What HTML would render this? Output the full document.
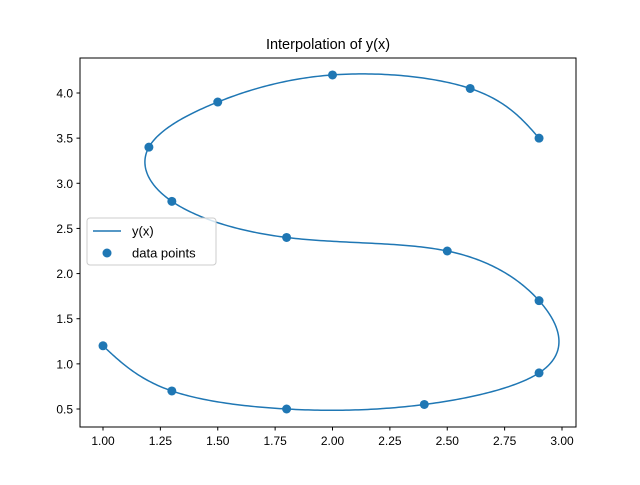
<!DOCTYPE html>
<html><head><meta charset="utf-8"><style>
body{margin:0;background:#fff}
svg{font-family:"Liberation Sans","DejaVu Sans",sans-serif}
</style></head><body>
<svg id="chart" width="640" height="480" xmlns="http://www.w3.org/2000/svg">
<rect width="640" height="480" fill="#fff"/>
<text x="328" y="49" text-anchor="middle" font-size="14.5">Interpolation of y(x)</text>
<g id="plot"></g>
<rect x="80" y="58" width="496" height="369" fill="none" stroke="#000" stroke-width="1"/>
<g id="xticks"></g>
<g id="yticks"></g>
<g>
<rect x="87" y="218" width="129" height="47" rx="3" fill="#fff" fill-opacity="0.8" stroke="#ccc"/>
<line x1="93" y1="231" x2="121" y2="231" stroke="#1f77b4" stroke-width="1.5"/>
<text x="132" y="235.5" font-size="13">y(x)</text>
<circle cx="107" cy="253" r="4.5" fill="#1f77b4"/>
<text x="132" y="257.5" font-size="13">data points</text>
</g>
</svg>
<script>
const xs=[1.0,1.3,1.8,2.4,2.9,2.9,2.5,1.8,1.3,1.2,1.5,2.0,2.6,2.9];
const ys=[1.2,0.7,0.5,0.55,0.9,1.7,2.25,2.4,2.8,3.4,3.9,4.2,4.05,3.5];
const xTicks=["1.00","1.25","1.50","1.75","2.00","2.25","2.50","2.75","3.00"];
const yTicks=["0.5","1.0","1.5","2.0","2.5","3.0","3.5","4.0"];
const X=v=>103+(v-1)*229.5, Y=v=>409-(v-0.5)*90.286;
const NS="http://www.w3.org/2000/svg";
function mk(tag,attrs,parent){const e=document.createElementNS(NS,tag);for(const k in attrs)e.setAttribute(k,attrs[k]);parent.appendChild(e);return e;}
const xt=document.getElementById('xticks'),yt=document.getElementById('yticks'),plot=document.getElementById('plot');
xTicks.forEach(t=>{const px=X(+t);
const l=mk('line',{x1:px,x2:px,y1:427,y2:430.5,stroke:'#000'},xt);


const tx=mk('text',{x:px,y:445,'text-anchor':'middle','font-size':'12'},xt);tx.textContent=t;

});
yTicks.forEach(t=>{const py=Y(+t);
const l=mk('line',{x1:76.5,x2:80,y1:py,y2:py,stroke:'#000'},yt);


const tx=mk('text',{x:73,y:py+4.5,'text-anchor':'end','font-size':'12'},yt);tx.textContent=t;

});
// natural cubic spline on chord length parameter
const n=xs.length,t=[0];
for(let i=1;i<n;i++)t.push(t[i-1]+Math.hypot(xs[i]-xs[i-1],ys[i]-ys[i-1]));
function spline(v){const h=[];for(let i=0;i<n-1;i++)h.push(t[i+1]-t[i]);
const a=new Array(n).fill(0),b=new Array(n).fill(1),c=new Array(n).fill(0),d=new Array(n).fill(0);
for(let i=1;i<n-1;i++){a[i]=h[i-1];b[i]=2*(h[i-1]+h[i]);c[i]=h[i];d[i]=6*((v[i+1]-v[i])/h[i]-(v[i]-v[i-1])/h[i-1]);}
for(let i=1;i<n;i++){const m=a[i]/b[i-1];b[i]-=m*c[i-1];d[i]-=m*d[i-1];}
const M=new Array(n);M[n-1]=d[n-1]/b[n-1];for(let i=n-2;i>=0;i--)M[i]=(d[i]-c[i]*M[i+1])/b[i];
return s=>{let i=0;while(i<n-2&&s>t[i+1])i++;const hh=h[i],A=(t[i+1]-s)/hh,B=(s-t[i])/hh;
return A*v[i]+B*v[i+1]+((A*A*A-A)*M[i]+(B*B*B-B)*M[i+1])*hh*hh/6;};}
const sx=spline(xs),sy=spline(ys);let d='';
for(let k=0;k<=600;k++){const s=t[n-1]*k/600;d+=(k?'L':'M')+X(sx(s)).toFixed(2)+','+Y(sy(s)).toFixed(2);}
const p=mk('path',{d:d,fill:'none',stroke:'#1f77b4','stroke-width':1.5},plot);


xs.forEach((x,i)=>{const c=mk('circle',{cx:X(x),cy:Y(ys[i]),r:4.5,fill:'#1f77b4'},plot);

});
</script>
</body></html>
